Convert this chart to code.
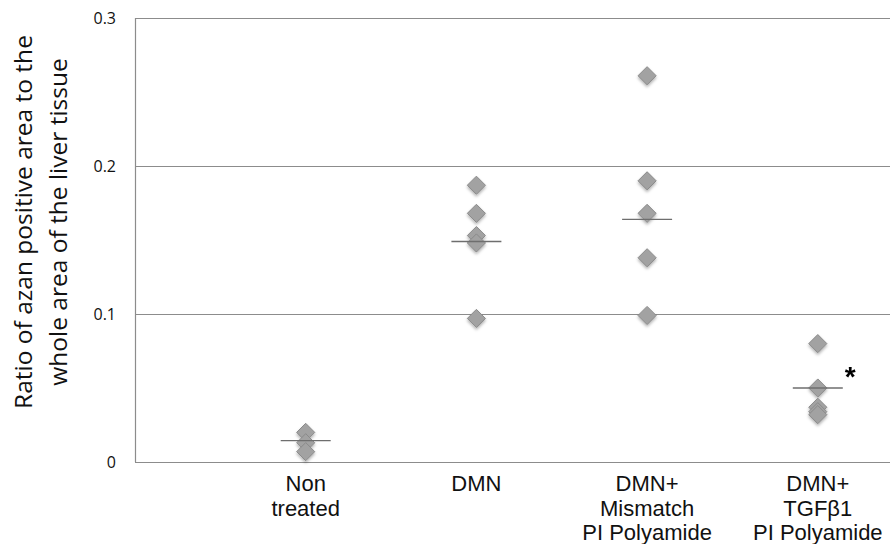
<!DOCTYPE html>
<html>
<head>
<meta charset="utf-8">
<script src="https://cdn.jsdelivr.net/npm/d3@7"></script>
<style>
  body { margin: 0; background: #fff; }
  svg { display: block; }
</style>
</head>
<body>
<div class="canvas"></div>
<script>
// group labels (one per x position 1..4)
const groups = [
  ['Non', 'treated'],
  ['DMN'],
  ['DMN+', 'Mismatch', 'PI Polyamide'],
  ['DMN+', 'TGFβ1', 'PI Polyamide']
];

// individual ratios per group
const nonTreated = [0.020, 0.013, 0.007];
const dmn = [0.187, 0.168, 0.153, 0.148, 0.097];
const mismatch = [0.261, 0.190, 0.168, 0.138, 0.099];
const tgf = [0.080, 0.050, 0.037, 0.034, 0.032];

// horizontal bar per group
const centerLines = [0.0145, 0.149, 0.164, 0.050];

const yTicks = [0, 0.1, 0.2, 0.3];

const seriesList = [nonTreated, dmn, mismatch, tgf];

const width = 890;
const height = 544;
const margin = { left: 135, top: 18, bottom: 82 };

const svg = d3
  .select('.canvas')
  .append('svg')
  .attr('width', width)
  .attr('height', height);

const x = d3
  .scaleLinear()
  .domain([0, 5])
  .range([margin.left, margin.left + 5 * 170.7]);

const y = d3
  .scaleLinear()
  .domain([0, 0.3])
  .range([height - margin.bottom, margin.top]);

const defs = svg.append('defs');
const shadow = defs
  .append('filter')
  .attr('id', 'shadow')
  .attr('x', '-50%')
  .attr('y', '-50%')
  .attr('width', '200%')
  .attr('height', '200%');
shadow
  .append('feDropShadow')
  .attr('dx', 0)
  .attr('dy', 2)
  .attr('stdDeviation', 1.5)
  .attr('flood-color', '#000')
  .attr('flood-opacity', 0.3);

// gridlines
svg
  .append('g')
  .selectAll('line')
  .data(yTicks.filter(d => d > 0))
  .join('line')
  .attr('x1', margin.left)
  .attr('x2', width)
  .attr('y1', d => y(d) + 0.5)
  .attr('y2', d => y(d) + 0.5)
  .attr('stroke', '#8c8c8c')
  .attr('stroke-width', 1.2);

// axes lines
svg
  .append('line')
  .attr('x1', margin.left + 0.5)
  .attr('x2', margin.left + 0.5)
  .attr('y1', y(0.3))
  .attr('y2', y(0))
  .attr('stroke', '#8c8c8c')
  .attr('stroke-width', 1.2);

svg
  .append('line')
  .attr('x1', margin.left)
  .attr('x2', width)
  .attr('y1', y(0) + 0.5)
  .attr('y2', y(0) + 0.5)
  .attr('stroke', '#8c8c8c')
  .attr('stroke-width', 1.2);

// y tick labels
svg
  .append('g')
  .selectAll('text')
  .data(yTicks)
  .join('text')
  .attr('x', margin.left - 19)
  .attr('y', d => y(d))
  .attr('dy', '0.35em')
  .attr('text-anchor', 'end')
  .attr('font-family', 'Open Sans, sans-serif')
  .attr('font-size', 16)
  .attr('fill', '#111')
  .text(d => (d === 0 ? '0' : d3.format('.1f')(d)));

// y axis title
const yTitle = svg
  .append('text')
  .attr('transform', `translate(0, 222) rotate(-90)`)
  .attr('text-anchor', 'middle')
  .attr('font-family', 'Open Sans, sans-serif')
  .attr('font-size', 24.5)
  .attr('fill', '#111');
yTitle.append('tspan').attr('x', 0).attr('y', 32).text('Ratio of azan positive area to the');
yTitle.append('tspan').attr('x', 0).attr('y', 67).text('whole area of the liver tissue');

// category labels
const labels = svg
  .append('g')
  .selectAll('text')
  .data(groups)
  .join('text')
  .attr('text-anchor', 'middle')
  .attr('font-family', 'Liberation Sans, Arial, sans-serif')
  .attr('font-size', 22)
  .attr('fill', '#111');
labels
  .selectAll('tspan')
  .data((d, i) => d.map(t => ({ t, i })))
  .join('tspan')
  .attr('x', d => x(d.i + 1))
  .attr('y', (d, j) => 491 + j * 24.5)
  .text(d => d.t);

// diamonds
const diamond = d3.symbol().type(d3.symbolDiamond2).size(210);
const points = seriesList.flatMap((vals, i) => vals.map(v => ({ i, v })));

svg
  .append('g')
  .attr('filter', 'url(#shadow)')
  .selectAll('path')
  .data(points)
  .join('path')
  .attr('transform', d => `translate(${x(d.i + 1)}, ${y(d.v)})`)
  .attr('d', diamond)
  .attr('fill', '#a2a2a2')
  .attr('stroke', '#8a8a8a')
  .attr('stroke-width', 1);

// center lines
svg
  .append('g')
  .selectAll('line')
  .data(centerLines)
  .join('line')
  .attr('x1', (d, i) => x(i + 1) - 25)
  .attr('x2', (d, i) => x(i + 1) + 25)
  .attr('y1', d => y(d))
  .attr('y2', d => y(d))
  .attr('stroke', '#6e6e6e')
  .attr('stroke-width', 1.3);

// significance mark
svg
  .append('text')
  .attr('x', x(4) + 27)
  .attr('y', y(centerLines[3]) - 2)
  .attr('font-family', 'Liberation Sans, Arial, sans-serif')
  .attr('font-size', 28)
  .attr('font-weight', 'bold')
  .attr('fill', '#000')
  .text('*');
</script>
</body>
</html>
